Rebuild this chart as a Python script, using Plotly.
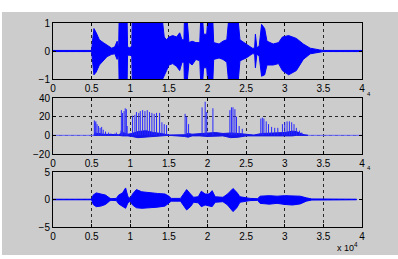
import plotly.graph_objects as go

# ---------------- data (x in units of 1e4 samples) ----------------
# Panel 1: waveform envelope (upper / lower), amplitude -1..1
p1_x = [0, 0.5, 0.51, 0.53, 0.56, 0.6, 0.65, 0.7, 0.76, 0.8, 0.83, 0.85, 0.855, 0.96, 0.965, 1.0, 1.02,
        1.025, 1.42, 1.44, 1.47, 1.5, 1.55, 1.6, 1.64, 1.67, 1.695, 1.7, 1.74, 1.76, 1.8, 1.85, 1.9,
        1.91, 1.94, 1.95, 1.99, 2.0, 2.07, 2.08, 2.15, 2.2, 2.25, 2.27, 2.40, 2.42, 2.5, 2.58, 2.61,
        2.62, 2.64, 2.67, 2.7, 2.74, 2.77, 2.85, 2.92, 2.97, 3.05, 3.15, 3.24, 3.33, 3.45, 3.5, 4.0]
p1_up = [0.02, 0.02, 0.3, 0.8, 0.65, 0.4, 0.3, 0.2, 0.1, 0.15, 0.35, 0.1, 1, 1, 0.15, 0.1, 0.2,
         1, 1, 0.5, 0.4, 0.5, 0.55, 0.5, 0.65, 0.4, 0.4, 1, 1, 0.3, 0.35, 0.3, 0.3,
         1, 1, 0.6, 0.6, 1, 1, 0.3, 0.25, 0.35, 0.4, 1, 1, 0.4, 0.25, 0.1, 0.1,
         0.6, 0.1, 0.2, 0.95, 0.8, 0.35, 0.25, 0.3, 0.5, 0.55, 0.45, 0.25, 0.1, 0.04, 0.02, 0.02]
p1_lo = [-0.02, -0.02, -0.3, -0.85, -0.75, -0.5, -0.35, -0.2, -0.12, -0.1, -0.3, -0.1, -1, -1, -0.15, -0.15, -0.2,
         -1, -1, -0.9, -0.7, -0.5, -0.45, -0.55, -0.7, -0.4, -0.4, -1, -1, -0.4, -0.5, -0.3, -0.35,
         -1, -1, -0.6, -0.6, -1, -1, -0.3, -0.25, -0.3, -0.4, -1, -1, -0.35, -0.25, -0.1, -0.1,
         -0.6, -0.1, -0.2, -0.9, -0.85, -0.5, -0.5, -0.45, -0.7, -0.85, -0.7, -0.3, -0.1, -0.04, -0.02, -0.02]

# Panel 2: spikes (positions, heights) and low-level floor envelope
p2_spike_x = [0.535, 0.545, 0.555, 0.57, 0.59, 0.61, 0.63, 0.65, 0.68, 0.72, 0.75, 0.8, 0.82, 0.88,
              0.885, 0.90, 0.92, 0.935, 0.95, 0.96,
              1.03, 1.06, 1.08, 1.11, 1.13, 1.16, 1.19, 1.22, 1.25, 1.28, 1.31, 1.34, 1.38, 1.41, 1.44, 1.47,
              1.71, 1.73, 1.755,
              1.93, 1.97, 1.99, 2.07,
              2.29, 2.31, 2.33, 2.355, 2.375, 2.41, 2.45,
              2.69, 2.71, 2.73, 2.76, 2.79, 2.83, 2.87, 2.91,
              2.97, 3.0, 3.03, 3.06, 3.09, 3.12, 3.15, 3.19, 3.22]
p2_spike_h = [16, 14, 15, 12, 10, 8, 9, 6, 4, 3, 2, 2, 3, 5,
              27, 24, 26, 29, 28, 10,
              21, 22, 25, 24, 26, 27, 26, 27, 25, 24, 23, 24, 24, 14, 12, 11,
              23, 20, 12,
              30, 36, 25, 29,
              27, 30, 30, 28, 20, 10, 7,
              18, 19, 18, 15, 12, 9, 8, 8,
              12, 14, 15, 15, 14, 12, 8, 5, 3]
p2_floor_x = [0.53, 0.54, 0.65, 0.75, 0.85, 0.9, 0.97, 1.02, 1.1, 1.2, 1.3, 1.4, 1.5, 1.7, 1.75, 1.8, 1.9,
              2.0, 2.1, 2.2, 2.3, 2.4, 2.5, 2.6, 2.7, 2.9, 3.0, 3.1, 3.15, 3.25, 3.3]
p2_floor_up = [0, 2.5, 1.2, 0.6, 0.6, 3, 1.2, 2, 4, 5, 3, 2, 0.3, 0.6, 2, 1.2, 2,
               2.5, 3, 2, 2.5, 2, 1.2, 0.3, 2, 2.5, 3, 4.5, 4, 0.6, 0]
p2_floor_lo = [0, -0.6, -0.3, 0, 0, -0.6, -0.6, -1.2, -2.5, -2, -1.2, -0.6, 0, -1.2, -2, -0.6, -0.6,
               -1.2, -1.2, -0.6, -2.5, -2, -0.6, 0, -0.3, -0.6, -0.6, -0.6, 0, 0, 0]

# Panel 3: filtered waveform envelope, amplitude -5..5
p3_x = [0, 0.5, 0.52, 0.56, 0.62, 0.68, 0.73, 0.75, 0.82, 0.85, 0.9, 0.94, 0.97, 1.0, 1.03, 1.08, 1.15,
        1.25, 1.35, 1.45, 1.5, 1.53, 1.65, 1.69, 1.73, 1.78, 1.82, 1.88, 1.92, 1.97, 2.02, 2.06, 2.1,
        2.2, 2.26, 2.33, 2.38, 2.42, 2.55, 2.65, 2.68, 2.8, 2.9, 3.0, 3.1, 3.2, 3.28, 3.35, 3.93]
p3_up = [0.05, 0.05, 0.8, 1.2, 1.0, 0.8, 0.3, 0.15, 0.2, 0.8, 1.2, 2.1, 0.5, 0.2, 1.0, 1.8, 1.4,
         1.2, 1.1, 1.0, 0.6, 0.2, 0.2, 1.0, 1.8, 1.0, 0.4, 0.5, 1.5, 1.0, 1.0, 1.6, 0.5,
         0.4, 1.0, 2.0, 1.3, 0.5, 0.2, 0.15, 0.6, 0.7, 0.6, 0.7, 0.7, 0.6, 0.3, 0.1, 0.05]
p3_lo = [-0.05, -0.05, -0.9, -1.3, -1.2, -0.9, -0.3, -0.15, -0.2, -0.8, -1.3, -1.6, -0.6, -0.3, -1.0, -1.5, -1.6,
         -1.5, -1.4, -1.2, -0.7, -0.3, -0.3, -1.0, -1.9, -1.3, -0.5, -0.6, -1.3, -1.0, -1.2, -1.3, -0.5,
         -0.4, -1.0, -2.2, -1.5, -0.5, -0.2, -0.15, -0.7, -0.85, -0.7, -0.9, -1.0, -0.8, -0.3, -0.1, -0.05]

x_ticks = [0, 0.5, 1, 1.5, 2, 2.5, 3, 3.5, 4]
x_tick_labels = ["0", "0.5", "1", "1.5", "2", "2.5", "3", "3.5", "4"]
y1_ticks = [-1, 0, 1]
y2_ticks = [-20, 0, 20, 40]
y3_ticks = [-5, 0, 5]

SCALE = 1e4
BLUE = "rgb(0,0,255)"

def env_trace(xs, up, lo, xa, ya, color=BLUE):
    xx = [v * SCALE for v in xs] + [v * SCALE for v in xs[::-1]]
    yy = list(up) + list(lo[::-1])
    return go.Scatter(x=xx, y=yy, fill="toself", fillcolor=color, mode="lines",
                      line=dict(color=color, width=1), xaxis=xa, yaxis=ya,
                      hoverinfo="skip", showlegend=False)

fig = go.Figure()
fig.add_trace(env_trace(p1_x, p1_up, p1_lo, "x", "y"))

# panel 2 baseline
fig.add_trace(go.Scatter(x=[0, 4 * SCALE], y=[0, 0], mode="lines",
                         line=dict(color="rgb(100,100,255)", width=1),
                         xaxis="x2", yaxis="y2", showlegend=False))
fig.add_trace(env_trace(p2_floor_x, p2_floor_up, p2_floor_lo, "x2", "y2", "rgb(20,20,235)"))
sx, sy = [], []
for xv, hv in zip(p2_spike_x, p2_spike_h):
    sx += [xv * SCALE, xv * SCALE, None]
    sy += [0, hv, None]
fig.add_trace(go.Scatter(x=sx, y=sy, mode="lines", line=dict(color="rgb(40,40,255)", width=1),
                         xaxis="x2", yaxis="y2", showlegend=False))

fig.add_trace(env_trace(p3_x, p3_up, p3_lo, "x3", "y3"))

# ---------------- layout ----------------
L, R, T, B = 53, 36, 23, 32
W, H = 398, 259
ph = H - T - B  # 204
def py(px):  # pixel y -> paper y
    return (H - B - px) / ph
def pxx(px):
    return (px - L) / (W - L - R)

FAM = "Liberation Sans, Arial, sans-serif"
font = dict(family=FAM, size=10, color="black")
xcommon = dict(range=[0, 4 * SCALE], tickvals=[v * SCALE for v in x_ticks], ticktext=x_tick_labels,
               showgrid=True, gridcolor="rgb(40,40,40)", griddash="dot", gridwidth=1,
               ticks="inside", ticklen=3, tickcolor="black", showline=True, linecolor="black",
               linewidth=1, mirror="ticks", zeroline=False, tickfont=font, fixedrange=True)
ycommon = dict(showgrid=True, gridcolor="rgb(40,40,40)", griddash="dot", gridwidth=1,
               ticks="inside", ticklen=3, tickcolor="black", showline=True, linecolor="black",
               linewidth=1, mirror="ticks", zeroline=False, tickfont=font, fixedrange=True)

fig.update_layout(
    width=W, height=H,
    margin=dict(l=L, r=R, t=T, b=B, pad=0),
    paper_bgcolor="white", plot_bgcolor="white",
    showlegend=False,
    xaxis=dict(xcommon, domain=[0, 1], anchor="y"),
    xaxis2=dict(xcommon, domain=[0, 1], anchor="y2"),
    xaxis3=dict(xcommon, domain=[0, 1], anchor="y3"),
    yaxis=dict(ycommon, domain=[py(79), py(23)], range=[-1, 1], tickvals=y1_ticks, anchor="x"),
    yaxis2=dict(ycommon, domain=[py(154), py(98)], range=[-20, 40], tickvals=y2_ticks, anchor="x2"),
    yaxis3=dict(ycommon, domain=[py(227), py(172)], range=[-5, 5], tickvals=y3_ticks, anchor="x3"),
    shapes=[dict(type="rect", xref="paper", yref="paper", layer="below",
                 x0=pxx(2), x1=pxx(398), y0=py(255), y1=py(12),
                 fillcolor="rgb(204,204,204)", line=dict(width=0))],
    annotations=[
        dict(text="x 10<sup>4</sup>", xref="paper", yref="paper", x=pxx(360), y=py(247),
             xanchor="right", yanchor="middle", showarrow=False,
             font=dict(family=FAM, size=9, color="black")),
        dict(text="4", xref="paper", yref="paper", x=pxx(366), y=py(98),
             xanchor="left", yanchor="bottom", showarrow=False, borderpad=0,
             font=dict(family=FAM, size=6, color="black")),
        dict(text="4", xref="paper", yref="paper", x=pxx(366), y=py(172),
             xanchor="left", yanchor="bottom", showarrow=False, borderpad=0,
             font=dict(family=FAM, size=6, color="black")),
    ],
)

fig.write_html("out.html")
